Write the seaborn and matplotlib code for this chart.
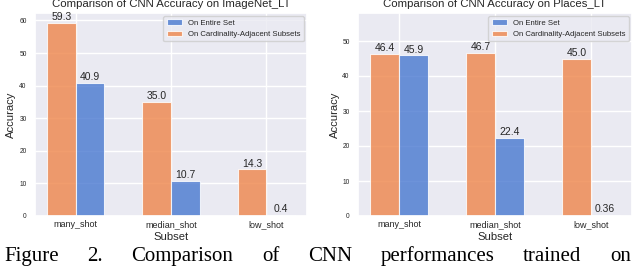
import matplotlib
matplotlib.use("Agg")
import matplotlib.pyplot as plt
import seaborn as sns
import pandas as pd

subsets = ["many_shot", "median_shot", "low_shot"]
series_names = ["On Entire Set", "On Cardinality-Adjacent Subsets"]
imagenet_entire = [40.9, 10.7, 0.4]
imagenet_adjacent = [59.3, 35.0, 14.3]
places_entire = [45.9, 22.4, 0.36]
places_adjacent = [46.4, 46.7, 45.0]
imagenet_labels_entire = ["40.9", "10.7", "0.4"]
imagenet_labels_adjacent = ["59.3", "35.0", "14.3"]
places_labels_entire = ["45.9", "22.4", "0.36"]
places_labels_adjacent = ["46.4", "46.7", "45.0"]
titles = ["Comparison of CNN Accuracy on ImageNet_LT",
          "Comparison of CNN Accuracy on Places_LT"]
caption_words = ["Figure", "2.", "Comparison", "of", "CNN",
                 "performances", "trained", "on"]

sns.set_theme(style="darkgrid", palette="muted")
plt.rcParams["font.family"] = ["Liberation Sans", "DejaVu Sans"]

muted = sns.color_palette("muted")
palette = {series_names[0]: muted[0], series_names[1]: muted[1]}


def make_df(entire, adjacent):
    rows = []
    for s, e, a in zip(subsets, entire, adjacent):
        rows.append({"Subset": s, "Series": series_names[1], "Accuracy": a})
        rows.append({"Subset": s, "Series": series_names[0], "Accuracy": e})
    return pd.DataFrame(rows)


W, H = 640, 275
fig = plt.figure(figsize=(6.4, 2.75), dpi=100)
ax1 = fig.add_axes([35 / W, 1 - 216 / H, 272 / W, 203 / H])
ax2 = fig.add_axes([358 / W, 1 - 216 / H, 274 / W, 203 / H])

configs = [
    (ax1, imagenet_entire, imagenet_adjacent, imagenet_labels_entire,
     imagenet_labels_adjacent, titles[0], 62.3, range(0, 61, 10), -0.07),
    (ax2, places_entire, places_adjacent, places_labels_entire,
     places_labels_adjacent, titles[1], 58.0, range(0, 51, 10), -0.065),
]

for ax, entire, adjacent, lab_e, lab_a, title, ytop, yticks, ylab_x in configs:
    df = make_df(entire, adjacent)
    sns.barplot(data=df, x="Subset", y="Accuracy", hue="Series",
                hue_order=[series_names[1], series_names[0]],
                order=subsets, palette=palette, width=0.6,
                saturation=1, alpha=0.8, errorbar=None, ax=ax,
                edgecolor="white", linewidth=0.8)
    ax.bar_label(ax.containers[0], labels=lab_a, padding=0.5, fontsize=7.5, color="#262626")
    ax.bar_label(ax.containers[1], labels=lab_e, padding=0.5, fontsize=7.5, color="#262626")
    ax.set_xlim(-0.43, 2.43)
    ax.set_ylim(0, ytop)
    ax.set_yticks(list(yticks))
    ax.xaxis.grid(True, color="white", linewidth=1)
    ax.yaxis.grid(True, color="white", linewidth=1)
    ax.set_axisbelow(True)
    ax.tick_params(axis="x", labelsize=6.5, pad=3, length=0)
    ax.tick_params(axis="y", labelsize=4.8, pad=6, length=0)
    ax.set_xlabel("Subset", fontsize=8.1)
    ax.set_ylabel("Accuracy", fontsize=8.1)
    ax.xaxis.set_label_coords(0.5, -0.078)
    ax.yaxis.set_label_coords(ylab_x, 0.5)
    ax.set_title(title, fontsize=8.2, pad=4)
    handles, labs = ax.get_legend_handles_labels()
    order = [labs.index(series_names[0]), labs.index(series_names[1])]
    ax.legend([handles[i] for i in order], [labs[i] for i in order],
              loc="upper right", fontsize=5.6, borderaxespad=0.4)

# caption, justified across the width
renderer = fig.canvas.get_renderer()
texts = []
for w in caption_words:
    t = fig.text(0, 1 - 261 / H, w, fontsize=15, family="Liberation Serif",
                 ha="left", va="baseline", color="black")
    texts.append(t)
widths = [t.get_window_extent(renderer).width for t in texts]
left_px, right_px = 4, 631
gap = (right_px - left_px - sum(widths)) / (len(texts) - 1)
x = left_px
for t, wd in zip(texts, widths):
    t.set_x(x / W)
    x += wd + gap

fig.savefig("out.png", dpi=100)
